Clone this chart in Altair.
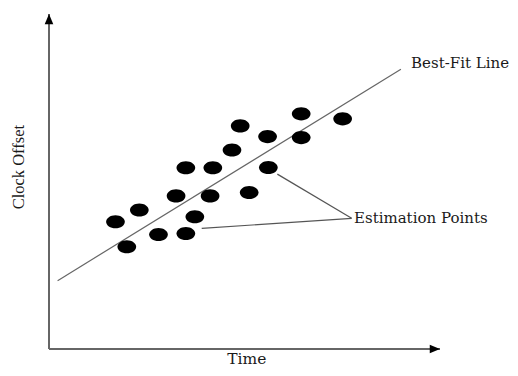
import altair as alt
import pandas as pd

# Estimation points (Time, Clock Offset) in arbitrary units 0..100
time_vals = [17.0, 23.1, 19.9, 28.0, 35.0, 37.3, 32.5, 41.2, 35.0, 41.9, 46.8, 48.9, 55.9, 51.2, 56.1, 64.5, 64.5, 75.1]
offset_vals = [38.0, 41.5, 30.5, 34.2, 34.5, 39.5, 45.7, 45.7, 54.1, 54.1, 59.4, 66.6, 63.4, 46.7, 54.2, 70.2, 63.1, 68.7]

# Best-fit line end points
fit_time = [2.2, 90.0]
fit_offset = [20.4, 83.5]

# Leader lines for the "Estimation Points" annotation (from junction to points)
leader_x = [77.4, 77.4]
leader_y = [39.0, 39.0]
leader_x2 = [58.4, 39.05]
leader_y2 = [52.2, 36.0]

# Annotation labels
label_text = ["Best-Fit Line", "Estimation Points"]
label_x = [92.6, 78.0]
label_y = [85.3, 39.1]

# Axis extents
axis_max = 100

pts = pd.DataFrame({"t": time_vals, "o": offset_vals})
fit = pd.DataFrame({"t": fit_time, "o": fit_offset})
leaders = pd.DataFrame({"x": leader_x, "y": leader_y, "x2": leader_x2, "y2": leader_y2})
labels = pd.DataFrame({"text": label_text, "x": label_x, "y": label_y})
axes = pd.DataFrame({"x": [0, 0], "y": [0, 0], "x2": [axis_max, 0], "y2": [0, axis_max]})
xarrow = pd.DataFrame({"x": [axis_max], "y": [0]})
yarrow = pd.DataFrame({"x": [0], "y": [axis_max]})
xtitle = pd.DataFrame({"x": [50.6], "y": [-4.4], "text": ["Time"]})
ytitle = pd.DataFrame({"x": [-7.7], "y": [54.3], "text": ["Clock Offset"]})

xs = alt.Scale(domain=[0, axis_max], nice=False, zero=False)
ys = alt.Scale(domain=[0, axis_max], nice=False, zero=False)

def X(f):
    return alt.X(f, type="quantitative", scale=xs, axis=None)

def Y(f):
    return alt.Y(f, type="quantitative", scale=ys, axis=None)

axis_lines = alt.Chart(axes).mark_rule(color="#666666", strokeWidth=2).encode(
    x=X("x"), y=Y("y"), x2="x2", y2="y2"
)

x_head = alt.Chart(xarrow).mark_point(
    shape="M 0 0 L -1 -0.42 L -1 0.42 Z", size=420, filled=True, color="#000000", opacity=1
).encode(x=X("x"), y=Y("y"))

y_head = alt.Chart(yarrow).mark_point(
    shape="M 0 0 L -0.42 1 L 0.42 1 Z", size=420, filled=True, color="#000000", opacity=1
).encode(x=X("x"), y=Y("y"))

fit_line = alt.Chart(fit).mark_line(color="#666666", strokeWidth=1.2).encode(
    x=X("t"), y=Y("o")
)

leader_lines = alt.Chart(leaders).mark_rule(color="#555555", strokeWidth=1.2).encode(
    x=X("x"), y=Y("y"), x2="x2", y2="y2"
)

points = alt.Chart(pts).mark_point(
    shape="M -1 0 A 1 0.7 0 1 1 1 0 A 1 0.7 0 1 1 -1 0 Z",
    size=350, filled=True, color="#000000", opacity=1
).encode(x=X("t"), y=Y("o"))

label_marks = alt.Chart(labels).mark_text(
    align="left", baseline="middle", font="DejaVu Serif", fontSize=15, color="#1a1a1a"
).encode(x=X("x"), y=Y("y"), text="text")

xt = alt.Chart(xtitle).mark_text(
    align="center", baseline="alphabetic", font="DejaVu Serif", fontSize=15.5, color="#1a1a1a"
).encode(x=X("x"), y=Y("y"), text="text")

yt = alt.Chart(ytitle).mark_text(
    align="center", baseline="middle", angle=270, font="Liberation Serif", fontSize=16.5, color="#1a1a1a"
).encode(x=X("x"), y=Y("y"), text="text")

chart = alt.layer(
    axis_lines, fit_line, leader_lines, points, x_head, y_head, label_marks, xt, yt
).properties(
    width=391,
    height=335,
    background="white",
    autosize=alt.AutoSizeParams(type="none"),
    padding={"left": 41, "top": 6, "right": 70, "bottom": 19},
).configure_view(strokeWidth=0, stroke="transparent")

chart.save("out.html", embed_options={"renderer": "svg", "actions": False})
